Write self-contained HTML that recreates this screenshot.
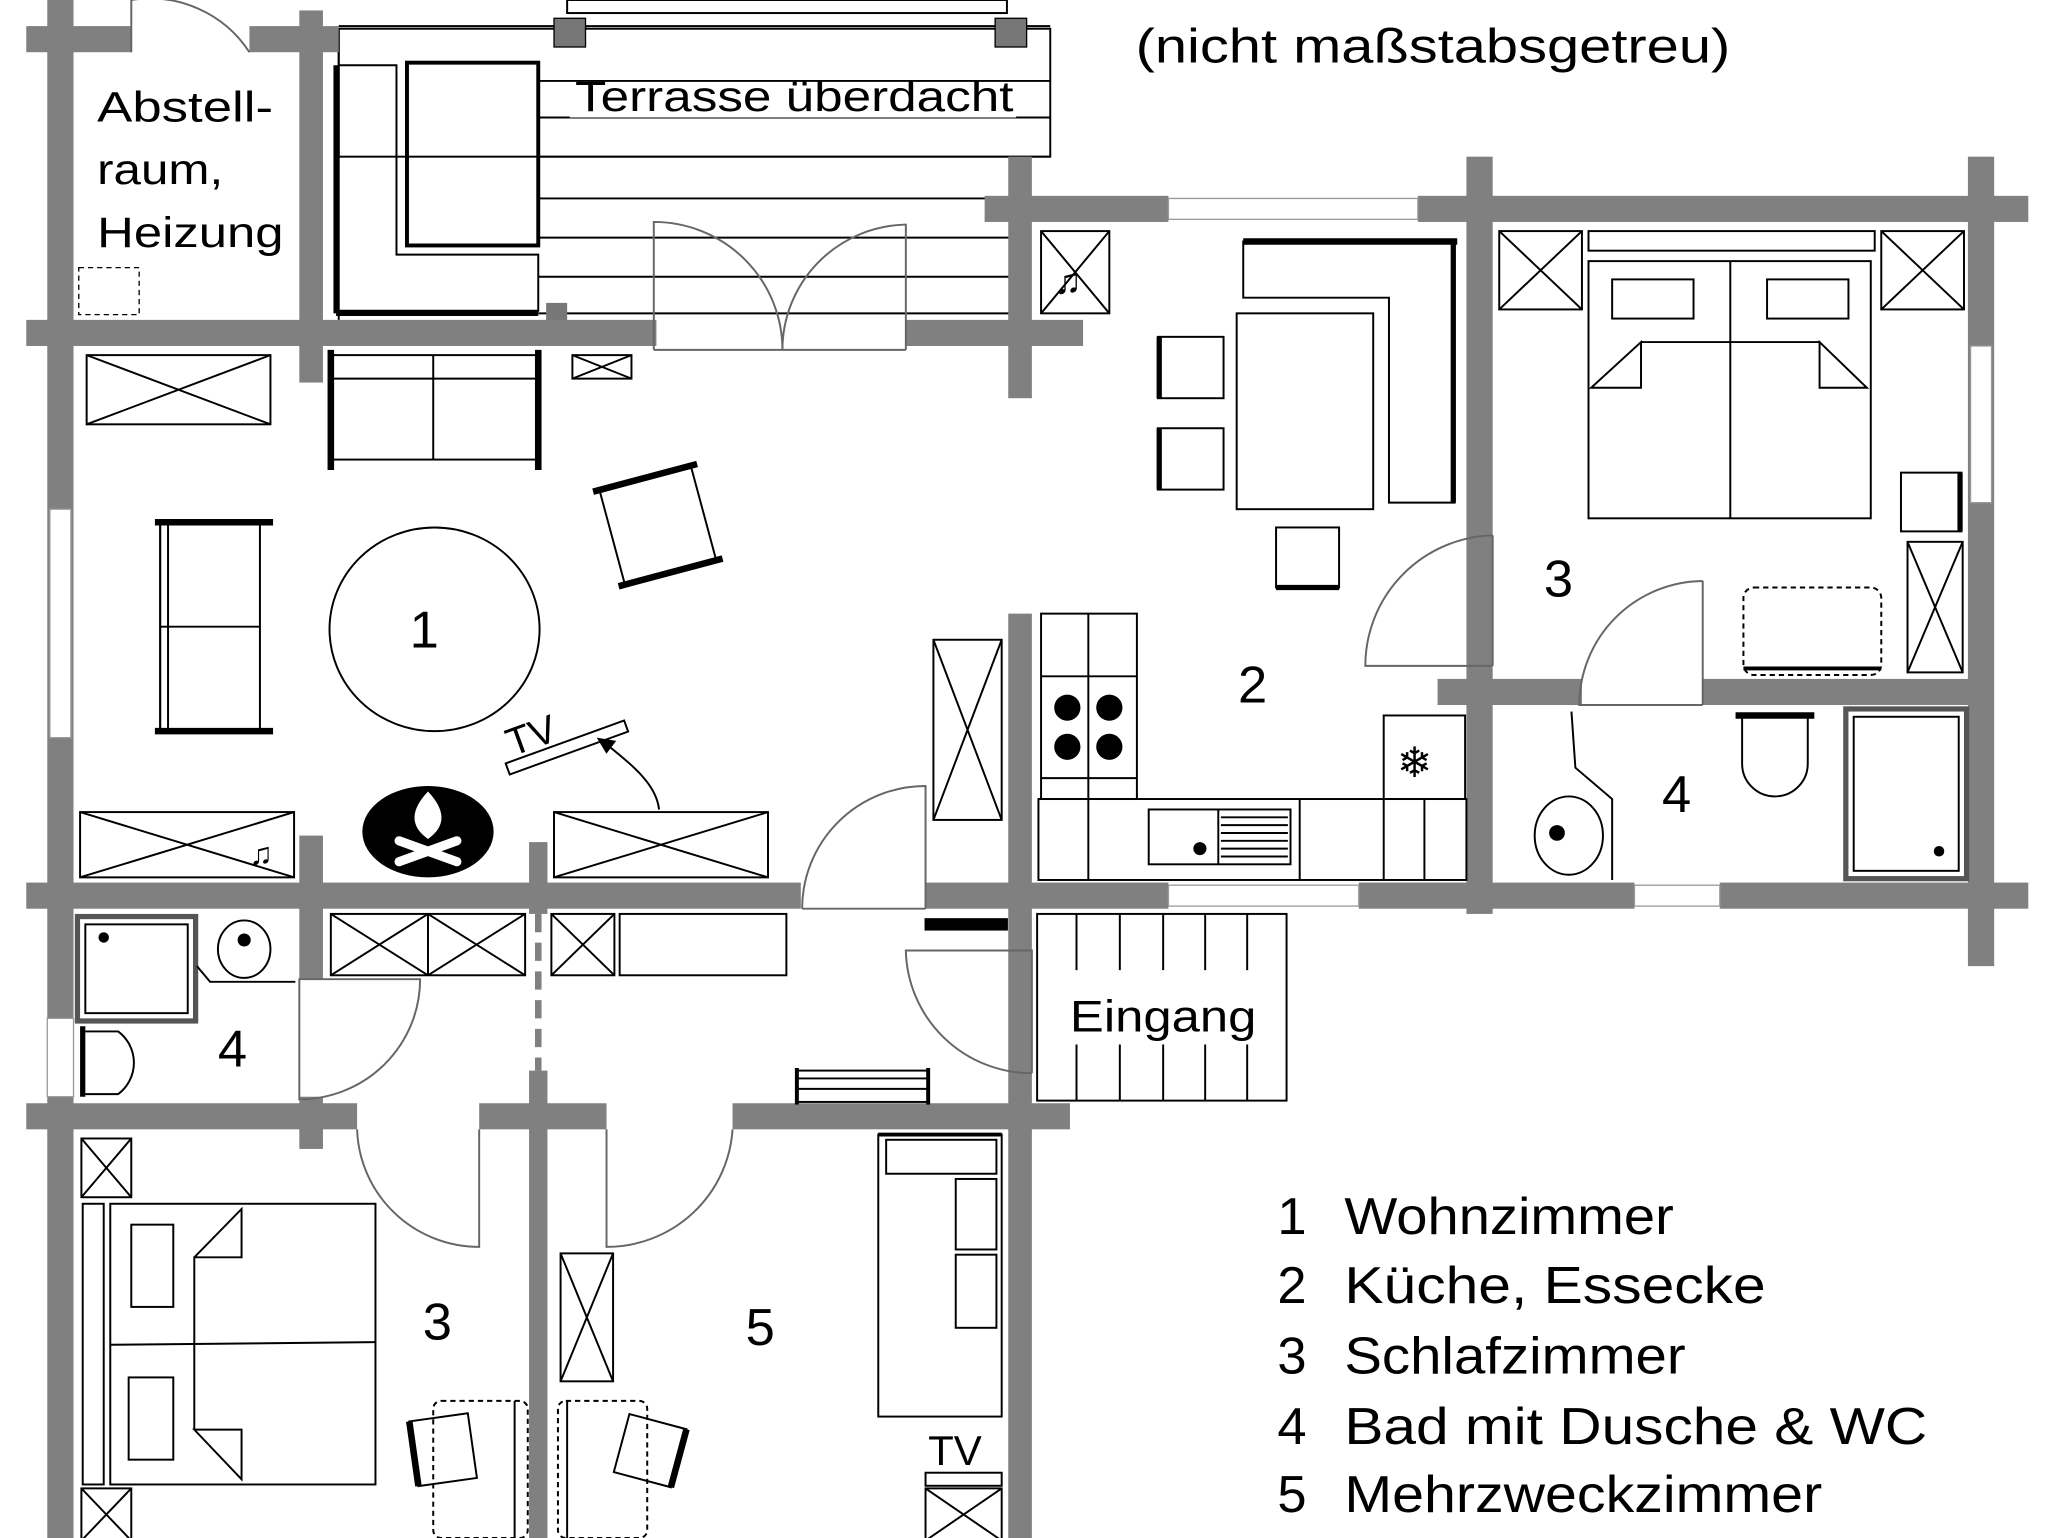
<!DOCTYPE html>
<html><head><meta charset="utf-8"><style>
html,body{margin:0;padding:0;background:#fff;}
svg{display:block;}
text{font-family:"Liberation Sans",sans-serif;fill:#000;}
</style></head><body>
<svg width="2048" height="1538" viewBox="0 0 1560 1178" preserveAspectRatio="none" xmlns="http://www.w3.org/2000/svg">
<rect width="1560" height="1178" fill="#fff"/>
<!-- terrace -->
<g fill="none" stroke="#000" stroke-width="1.5">
<rect x="258" y="22" width="542" height="98"/>
<line x1="258" y1="20" x2="800" y2="20"/>
<rect x="432" y="0" width="335" height="10"/>
<line x1="410" y1="62" x2="800" y2="62"/>
<line x1="410" y1="90" x2="800" y2="90"/>
<line x1="410" y1="120" x2="800" y2="120"/>
<line x1="410" y1="152" x2="770" y2="152"/>
<line x1="410" y1="182" x2="770" y2="182"/>
<line x1="410" y1="212" x2="770" y2="212"/>
<line x1="410" y1="240" x2="770" y2="240"/>
<line x1="258" y1="22" x2="258" y2="245"/>
<rect x="310" y="48" width="100" height="140" stroke-width="3"/>
<path d="M258 50 H302 V195 H410 V238 H258" stroke-width="1.5"/>
<line x1="256" y1="50" x2="256" y2="240" stroke-width="4"/>
<line x1="256" y1="240" x2="410" y2="240" stroke-width="4"/>
</g>
<rect x="422" y="14" width="24" height="22" fill="#777" stroke="#000"/>
<rect x="758" y="14" width="24" height="22" fill="#777" stroke="#000"/>
<rect x="416" y="232" width="16" height="14" fill="#777"/>
<rect x="434" y="64" width="340" height="26" fill="#fff"/>
<text x="438" y="85" font-size="33" textLength="334" lengthAdjust="spacingAndGlyphs">Terrasse überdacht</text>

<!-- walls -->
<g fill="#808080">
<rect x="36" y="0" width="20" height="1178"/>
<rect x="20" y="20" width="80" height="20"/>
<rect x="190" y="20" width="68" height="20"/>
<rect x="228" y="8" width="18" height="285"/>
<rect x="20" y="245" width="480" height="20"/>
<rect x="690" y="245" width="135" height="20"/>
<rect x="768" y="120" width="18" height="185"/>
<rect x="750" y="150" width="140" height="20"/>
<rect x="1080" y="150" width="465" height="20"/>
<rect x="1117" y="120" width="20" height="580"/>
<rect x="1499" y="120" width="20" height="620"/>
<rect x="1095" y="520" width="110" height="20"/>
<rect x="1297" y="520" width="205" height="20"/>
<rect x="768" y="470" width="18" height="708"/>
<rect x="20" y="676" width="590" height="20"/>
<rect x="705" y="676" width="185" height="20"/>
<rect x="1035" y="676" width="210" height="20"/>
<rect x="1310" y="676" width="235" height="20"/>
<rect x="228" y="640" width="18" height="110"/>
<rect x="228" y="840" width="18" height="40"/>
<rect x="403" y="645" width="14" height="55"/>
<rect x="403" y="820" width="14" height="358"/>
<rect x="20" y="845" width="252" height="20"/>
<rect x="365" y="845" width="97" height="20"/>
<rect x="558" y="845" width="257" height="20"/>
</g>
<g fill="#fff" stroke="#999" stroke-width="1">
<rect x="890" y="152" width="190" height="16"/>
<rect x="38" y="390" width="16" height="175"/>
<rect x="1501" y="265" width="16" height="120"/>
<rect x="890" y="678" width="145" height="16"/>
<rect x="1245" y="678" width="65" height="16"/>
<rect x="36" y="780" width="20" height="60"/>
</g>
<line x1="410" y1="700" x2="410" y2="820" stroke="#808080" stroke-width="5" stroke-dasharray="14,8"/>

<!-- doors -->
<g fill="none" stroke="#666" stroke-width="1.5">
<path d="M100 40 V0 M100 0 A90 90 0 0 1 190 40" />
<path d="M498 268 V170 A98 98 0 0 1 596 268 M498 268 H596"/>
<path d="M690 268 V172 A96 96 0 0 0 596 268 M596 268 H690"/>
<path d="M705 696 V602 A94 94 0 0 0 611 696 M611 696 H705"/>
<path d="M1137 410 V510 M1137 410 A100 100 0 0 0 1040 510 H1137" />
<path d="M1297 445 V540 M1297 445 A95 95 0 0 0 1203 540 H1297"/>
<path d="M228 750 H320 A92 92 0 0 1 228 842 Z"/>
<path d="M786 822 V728 H690 A96 96 0 0 0 786 822"/>
<path d="M365 865 V955 A93 93 0 0 1 272 865"/>
<path d="M462 865 V955 A96 96 0 0 0 558 865"/>
</g>

<!-- xboxes -->
<g fill="none" stroke="#000" stroke-width="1.5">
<rect x="66" y="272" width="140" height="53"/><path d="M66 272 L206 325 M206 272 L66 325"/>
<rect x="436" y="272" width="45" height="18"/><path d="M436 272 L481 290 M481 272 L436 290"/>
<rect x="61" y="622" width="163" height="50"/><path d="M61 622 L224 672 M224 622 L61 672"/>
<rect x="422" y="622" width="163" height="50"/><path d="M422 622 L585 672 M585 622 L422 672"/>
<rect x="711" y="490" width="52" height="138"/><path d="M711 490 L763 628 M763 490 L711 628"/>
<rect x="793" y="177" width="52" height="63"/><path d="M793 177 L845 240 M845 177 L793 240"/>
<rect x="1142" y="177" width="63" height="60"/><path d="M1142 177 L1205 237 M1205 177 L1142 237"/>
<rect x="1433" y="177" width="63" height="60"/><path d="M1433 177 L1496 237 M1496 177 L1433 237"/>
<rect x="1453" y="415" width="42" height="100"/><path d="M1453 415 L1495 515 M1495 415 L1453 515"/>
<rect x="252" y="700" width="148" height="47"/><path d="M252 700 L326 747 M326 700 L252 747 M326 700 L400 747 M400 700 L326 747 M326 700 V747"/>
<rect x="420" y="700" width="48" height="47"/><path d="M420 700 L468 747 M468 700 L420 747"/>
<rect x="472" y="700" width="127" height="47"/>
<rect x="62" y="872" width="38" height="45"/><path d="M62 872 L100 917 M100 872 L62 917"/>
<rect x="62" y="1140" width="38" height="40"/><path d="M62 1140 L100 1180 M100 1140 L62 1180"/>
<rect x="427" y="960" width="40" height="98"/><path d="M427 960 L467 1058 M467 960 L427 1058"/>
<rect x="705" y="1140" width="58" height="40"/><path d="M705 1140 L763 1180 M763 1140 L705 1180"/>
</g>
<rect x="60" y="205" width="46" height="36" fill="none" stroke="#000" stroke-dasharray="4,3"/>

<!-- living furniture -->
<g fill="none" stroke="#000" stroke-width="1.5">
<rect x="252" y="272" width="158" height="80"/><line x1="252" y1="290" x2="410" y2="290"/><line x1="330" y1="272" x2="330" y2="352"/>
<line x1="252" y1="268" x2="252" y2="360" stroke-width="5"/><line x1="410" y1="268" x2="410" y2="360" stroke-width="5"/>
<rect x="122" y="400" width="76" height="160"/><line x1="122" y1="480" x2="198" y2="480"/><line x1="122" y1="400" x2="122" y2="560"/>
<line x1="118" y1="400" x2="208" y2="400" stroke-width="5"/><line x1="118" y1="560" x2="208" y2="560" stroke-width="5"/>
<line x1="128" y1="400" x2="128" y2="560"/>
<ellipse cx="331" cy="482" rx="80" ry="78"/>
<g transform="rotate(-15 500 402)"><rect x="465" y="365" width="72" height="75"/><line x1="460" y1="365" x2="542" y2="365" stroke-width="5"/><line x1="460" y1="440" x2="542" y2="440" stroke-width="5"/></g>
<g transform="rotate(-20 432 573)"><rect x="384" y="568" width="96" height="9"/></g>
<path d="M502 620 C500 600 480 585 462 570" /><path d="M456 566 l12 2 l-6 8 z" fill="#000"/>
</g>
<ellipse cx="326" cy="637" rx="50" ry="35" fill="#000"/>
<g fill="#fff" stroke="#fff">
<path d="M326 607 C314 620 312 632 326 642 C340 632 338 620 326 607 Z"/>
<line x1="304" y1="644" x2="348" y2="660" stroke-width="7" stroke-linecap="round"/>
<line x1="348" y1="644" x2="304" y2="660" stroke-width="7" stroke-linecap="round"/>
</g>
<text x="384" y="575" font-size="30" transform="rotate(-20 400 560)">TV</text>
<text x="190" y="662" font-size="24">♫</text>
<text x="312" y="496" font-size="40">1</text>

<!-- kitchen/dining -->
<g fill="none" stroke="#000" stroke-width="1.5">
<path d="M947 185 H1108 V385 H1058 V228 H947 Z"/>
<line x1="947" y1="185" x2="1110" y2="185" stroke-width="5"/><line x1="1107" y1="185" x2="1107" y2="385" stroke-width="4"/>
<rect x="942" y="240" width="104" height="150"/>
<rect x="882" y="258" width="50" height="47"/><line x1="883" y1="258" x2="883" y2="305" stroke-width="4"/>
<rect x="882" y="328" width="50" height="47"/><line x1="883" y1="328" x2="883" y2="375" stroke-width="4"/>
<rect x="972" y="404" width="48" height="46"/><line x1="972" y1="450" x2="1020" y2="450" stroke-width="4"/>
<rect x="793" y="470" width="73" height="142"/><line x1="829" y1="470" x2="829" y2="612"/><line x1="793" y1="518" x2="866" y2="518"/><line x1="793" y1="596" x2="866" y2="596"/>
<rect x="791" y="612" width="326" height="62"/><line x1="829" y1="612" x2="829" y2="674"/><line x1="990" y1="612" x2="990" y2="674"/>
<rect x="875" y="620" width="108" height="42"/><line x1="928" y1="620" x2="928" y2="662"/>
<path d="M930 626 H981 M930 632 H981 M930 638 H981 M930 644 H981 M930 650 H981 M930 656 H981"/>
<rect x="1054" y="548" width="62" height="64"/><line x1="1054" y1="612" x2="1054" y2="674"/><line x1="1085" y1="612" x2="1085" y2="674"/>
</g>
<g fill="#000"><circle cx="813" cy="542" r="10"/><circle cx="845" cy="542" r="10"/><circle cx="813" cy="572" r="10"/><circle cx="845" cy="572" r="10"/><circle cx="914" cy="650" r="5"/></g>
<text x="1064" y="595" font-size="32">❄</text>
<text x="803" y="225" font-size="28">♫</text>
<text x="943" y="538" font-size="40">2</text>

<!-- bedroom right -->
<g fill="none" stroke="#000" stroke-width="1.5">
<rect x="1210" y="177" width="218" height="15"/>
<rect x="1210" y="200" width="215" height="197"/><line x1="1318" y1="200" x2="1318" y2="397"/>
<rect x="1228" y="214" width="62" height="30"/><rect x="1346" y="214" width="62" height="30"/>
<path d="M1212 297 L1250 262 V297 Z M1422 297 L1386 262 V297 Z M1250 262 H1386"/>
<rect x="1448" y="362" width="46" height="45"/><line x1="1493" y1="362" x2="1493" y2="407" stroke-width="4"/>
<rect x="1328" y="450" width="105" height="67" stroke-dasharray="4,3" rx="8"/><line x1="1328" y1="512" x2="1433" y2="512" stroke-width="3"/>
</g>
<text x="1176" y="457" font-size="40">3</text>

<!-- bath right -->
<g fill="none" stroke="#000" stroke-width="1.5">
<path d="M1197 545 L1200 588 L1228 612 V674"/>
<ellipse cx="1195" cy="640" rx="26" ry="30"/>
<rect x="1406" y="543" width="92" height="130" stroke="#555" stroke-width="4"/><rect x="1412" y="549" width="80" height="118"/>
<path d="M1327 548 V585 A25 25 0 0 0 1377 585 V548 Z"/><line x1="1322" y1="548" x2="1382" y2="548" stroke-width="5"/>
</g>
<circle cx="1186" cy="638" r="6"/><circle cx="1477" cy="652" r="4"/>
<text x="1266" y="622" font-size="40">4</text>

<!-- bath left -->
<g fill="none" stroke="#000" stroke-width="1.5">
<rect x="59" y="702" width="90" height="80" stroke="#555" stroke-width="4"/><rect x="65" y="708" width="78" height="68"/>
<ellipse cx="186" cy="727" rx="20" ry="22"/>
<path d="M150 740 L160 752 H225"/>
<path d="M65 790 H90 A30 30 0 0 1 90 838 H65"/><line x1="63" y1="786" x2="63" y2="840" stroke-width="4"/>
</g>
<circle cx="79" cy="718" r="4"/><circle cx="186" cy="720" r="5"/>
<text x="166" y="817" font-size="40">4</text>

<!-- hall -->
<g fill="none" stroke="#000" stroke-width="1.5">
<rect x="705" y="704" width="62" height="8" fill="#000"/>
<rect x="607" y="820" width="100" height="24"/><line x1="607" y1="826" x2="707" y2="826"/><line x1="607" y1="834" x2="707" y2="834"/>
<line x1="607" y1="818" x2="607" y2="846" stroke-width="3"/><line x1="707" y1="818" x2="707" y2="846" stroke-width="3"/>
<rect x="790" y="700" width="190" height="143"/>
<path d="M820 700 V743 M853 700 V743 M886 700 V743 M918 700 V743 M950 700 V743 M820 800 V843 M853 800 V843 M886 800 V843 M918 800 V843 M950 800 V843"/>
</g>
<text x="815" y="790" font-size="34" textLength="142" lengthAdjust="spacingAndGlyphs">Eingang</text>

<!-- bottom left bedroom -->
<g fill="none" stroke="#000" stroke-width="1.5">
<rect x="63" y="922" width="16" height="215"/>
<rect x="84" y="922" width="202" height="215"/><line x1="84" y1="1030" x2="286" y2="1028"/>
<rect x="100" y="938" width="32" height="63"/><rect x="98" y="1055" width="34" height="63"/>
<path d="M148 963 L184 926 V963 H148 V1095 M148 1095 H184 V1133 Z"/>
<rect x="330" y="1073" width="72" height="105" rx="6" stroke-dasharray="4,3"/><rect x="425" y="1073" width="68" height="105" rx="6" stroke-dasharray="4,3"/>
<line x1="392" y1="1073" x2="392" y2="1178"/><line x1="432" y1="1073" x2="432" y2="1178"/>
<g transform="rotate(-8 340 1110)"><rect x="315" y="1085" width="45" height="50"/><line x1="315" y1="1085" x2="315" y2="1135" stroke-width="5"/></g>
<g transform="rotate(15 495 1110)"><rect x="473" y="1088" width="45" height="46"/><line x1="518" y1="1088" x2="518" y2="1134" stroke-width="5"/></g>
<rect x="669" y="869" width="94" height="216"/><rect x="675" y="873" width="84" height="26"/>
<rect x="728" y="903" width="31" height="54"/><rect x="728" y="961" width="31" height="56"/>
<line x1="669" y1="869" x2="763" y2="869" stroke-width="3"/>
<rect x="705" y="1128" width="58" height="10"/>
</g>
<text x="322" y="1026" font-size="40">3</text>
<text x="568" y="1030" font-size="40">5</text>
<text x="707" y="1122" font-size="32">TV</text>

<!-- texts -->
<text x="74" y="93" font-size="33" textLength="134" lengthAdjust="spacingAndGlyphs">Abstell-</text>
<text x="74" y="141" font-size="33" textLength="96" lengthAdjust="spacingAndGlyphs">raum,</text>
<text x="74" y="189" font-size="33" textLength="142" lengthAdjust="spacingAndGlyphs">Heizung</text>
<text x="865" y="48" font-size="37" textLength="453" lengthAdjust="spacingAndGlyphs">(nicht maßstabsgetreu)</text>
<g font-size="40">
<text x="973" y="945">1</text><text x="1024" y="945" textLength="251" lengthAdjust="spacingAndGlyphs">Wohnzimmer</text>
<text x="973" y="998">2</text><text x="1024" y="998" textLength="321" lengthAdjust="spacingAndGlyphs">Küche, Essecke</text>
<text x="973" y="1052">3</text><text x="1024" y="1052" textLength="260" lengthAdjust="spacingAndGlyphs">Schlafzimmer</text>
<text x="973" y="1106">4</text><text x="1024" y="1106" textLength="444" lengthAdjust="spacingAndGlyphs">Bad mit Dusche &amp; WC</text>
<text x="973" y="1158">5</text><text x="1024" y="1158" textLength="364" lengthAdjust="spacingAndGlyphs">Mehrzweckzimmer</text>
</g>
</svg>
</body></html>
